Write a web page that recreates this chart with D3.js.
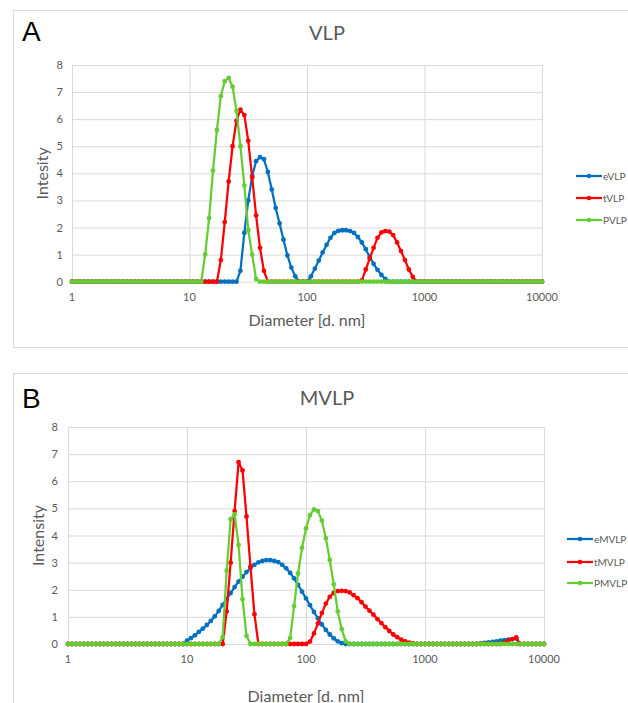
<!DOCTYPE html>
<html>
<head>
<meta charset="utf-8">
<script src="https://cdn.jsdelivr.net/npm/d3@7"></script>
<style>
  body { margin: 0; background: #fff; }
  svg { display: block; }
</style>
</head>
<body>
<svg id="chart" width="628" height="703"></svg>
<script>
// Size bins (nm), log spaced, shared by every series
const diameters = [
  1, 1.08, 1.166, 1.259, 1.359, 1.468, 1.585, 1.711, 1.848, 1.995,
  2.154, 2.326, 2.512, 2.712, 2.929, 3.162, 3.415, 3.687, 3.981, 4.299,
  4.642, 5.012, 5.412, 5.843, 6.31, 6.813, 7.356, 7.943, 8.577, 9.261,
  10, 10.8, 11.66, 12.59, 13.59, 14.68, 15.85, 17.11, 18.48, 19.95,
  21.54, 23.26, 25.12, 27.12, 29.29, 31.62, 34.15, 36.87, 39.81, 42.99,
  46.42, 50.12, 54.12, 58.43, 63.1, 68.13, 73.56, 79.43, 85.77, 92.61,
  100, 108, 116.6, 125.9, 135.9, 146.8, 158.5, 171.1, 184.8, 199.5,
  215.4, 232.6, 251.2, 271.2, 292.9, 316.2, 341.5, 368.7, 398.1, 429.9,
  464.2, 501.2, 541.2, 584.3, 631, 681.3, 735.6, 794.3, 857.7, 926.1,
  1000, 1080, 1166, 1259, 1359, 1468, 1585, 1711, 1848, 1995,
  2154, 2326, 2512, 2712, 2929, 3162, 3415, 3687, 3981, 4299,
  4642, 5012, 5412, 5843, 6310, 6813, 7356, 7943, 8577, 9261,
  10000
];

// Panel A - VLP intensities
const vlpE = [
  0, 0, 0, 0, 0, 0, 0, 0, 0, 0,
  0, 0, 0, 0, 0, 0, 0, 0, 0, 0,
  0, 0, 0, 0, 0, 0, 0, 0, 0, 0,
  0, 0, 0, 0, 0, 0, 0, 0, 0, 0,
  0, 0, 0, 0.4, 1.8, 3.0, 3.9, 4.45, 4.6, 4.52,
  4.05, 3.4, 2.72, 2.15, 1.55, 0.97, 0.52, 0.2, 0, 0,
  0, 0.2, 0.48, 0.78, 1.08, 1.36, 1.62, 1.8, 1.88, 1.9,
  1.9, 1.87, 1.8, 1.65, 1.45, 1.2, 0.92, 0.66, 0.44, 0.25,
  0.1, 0, 0, 0, 0, 0, 0, 0, 0, 0,
  0, 0, 0, 0, 0, 0, 0, 0, 0, 0,
  0, 0, 0, 0, 0, 0, 0, 0, 0, 0,
  0, 0, 0, 0, 0, 0, 0, 0, 0, 0,
  0
];
const vlpT = [
  0, 0, 0, 0, 0, 0, 0, 0, 0, 0,
  0, 0, 0, 0, 0, 0, 0, 0, 0, 0,
  0, 0, 0, 0, 0, 0, 0, 0, 0, 0,
  0, 0, 0, 0, 0, 0, 0, 0, 0.8, 2.2,
  3.7, 5.0, 5.95, 6.35, 6.15, 5.2, 3.85, 2.45, 1.25, 0.4,
  0, 0, 0, 0, 0, 0, 0, 0, 0, 0,
  0, 0, 0, 0, 0, 0, 0, 0, 0, 0,
  0, 0, 0, 0, 0.05, 0.45, 0.85, 1.25, 1.62, 1.82,
  1.87, 1.85, 1.72, 1.45, 1.13, 0.8, 0.45, 0.18, 0, 0,
  0, 0, 0, 0, 0, 0, 0, 0, 0, 0,
  0, 0, 0, 0, 0, 0, 0, 0, 0, 0,
  0, 0, 0, 0, 0, 0, 0, 0, 0, 0,
  0
];
const vlpP = [
  0, 0, 0, 0, 0, 0, 0, 0, 0, 0,
  0, 0, 0, 0, 0, 0, 0, 0, 0, 0,
  0, 0, 0, 0, 0, 0, 0, 0, 0, 0,
  0, 0, 0, 0, 1.0, 2.35, 4.1, 5.6, 6.85, 7.4,
  7.52, 7.2, 6.3, 5.0, 3.55, 1.9, 1.0, 0.1, 0, 0,
  0, 0, 0, 0, 0, 0, 0, 0, 0, 0,
  0, 0, 0, 0, 0, 0, 0, 0, 0, 0,
  0, 0, 0, 0, 0, 0, 0, 0, 0, 0,
  0, 0, 0, 0, 0, 0, 0, 0, 0, 0,
  0, 0, 0, 0, 0, 0, 0, 0, 0, 0,
  0, 0, 0, 0, 0, 0, 0, 0, 0, 0,
  0, 0, 0, 0, 0, 0, 0, 0, 0, 0,
  0
];

// Panel B - MVLP intensities
const mvlpE = [
  0, 0, 0, 0, 0, 0, 0, 0, 0, 0,
  0, 0, 0, 0, 0, 0, 0, 0, 0, 0,
  0, 0, 0, 0, 0, 0, 0, 0, 0, 0,
  0.12, 0.22, 0.32, 0.45, 0.57, 0.7, 0.85, 1.02, 1.22, 1.44,
  1.66, 1.88, 2.1, 2.3, 2.48, 2.65, 2.8, 2.92, 3.01, 3.06,
  3.09, 3.09, 3.06, 3.02, 2.92, 2.79, 2.62, 2.42, 2.18, 1.93,
  1.68, 1.43, 1.18, 0.95, 0.72, 0.52, 0.35, 0.21, 0.1, 0.03,
  0, 0, 0, 0, 0, 0, 0, 0, 0, 0,
  0, 0, 0, 0, 0, 0, 0, 0, 0, 0,
  0, 0, 0, 0, 0, 0, 0, 0, 0, 0,
  0, 0, 0, 0, 0.02, 0.04, 0.06, 0.08, 0.1, 0.12,
  0.14, 0.16, 0.18, 0.2, 0, 0, 0, 0, 0, 0,
  0
];
const mvlpT = [
  0, 0, 0, 0, 0, 0, 0, 0, 0, 0,
  0, 0, 0, 0, 0, 0, 0, 0, 0, 0,
  0, 0, 0, 0, 0, 0, 0, 0, 0, 0,
  0, 0, 0, 0, 0, 0, 0, 0, 0, 0,
  1.2, 3.0, 4.9, 6.7, 6.4, 4.7, 2.85, 1.1, 0, 0,
  0, 0, 0, 0, 0, 0, 0, 0, 0, 0,
  0, 0.09, 0.39, 0.76, 1.14, 1.49, 1.74, 1.88, 1.95, 1.96,
  1.95, 1.9, 1.8, 1.69, 1.54, 1.38, 1.23, 1.08, 0.92, 0.77,
  0.62, 0.48, 0.35, 0.25, 0.16, 0.1, 0.05, 0.02, 0, 0,
  0, 0, 0, 0, 0, 0, 0, 0, 0, 0,
  0, 0, 0, 0, 0, 0, 0, 0, 0, 0,
  0.05, 0.12, 0.18, 0.24, 0, 0, 0, 0, 0, 0,
  0
];
const mvlpP = [
  0, 0, 0, 0, 0, 0, 0, 0, 0, 0,
  0, 0, 0, 0, 0, 0, 0, 0, 0, 0,
  0, 0, 0, 0, 0, 0, 0, 0, 0, 0,
  0, 0, 0, 0, 0, 0, 0, 0, 0, 0.25,
  2.7, 4.6, 4.78, 3.65, 1.65, 0.3, 0, 0, 0, 0,
  0, 0, 0, 0, 0, 0, 0.22, 1.4, 2.6, 3.55,
  4.26, 4.75, 4.96, 4.9, 4.55, 3.9, 3.1, 2.2, 1.2, 0.55,
  0.1, 0, 0, 0, 0, 0, 0, 0, 0, 0,
  0, 0, 0, 0, 0, 0, 0, 0, 0, 0,
  0, 0, 0, 0, 0, 0, 0, 0, 0, 0,
  0, 0, 0, 0, 0, 0, 0, 0, 0, 0,
  0, 0, 0, 0, 0, 0, 0, 0, 0, 0,
  0
];

const xTicks = [1, 10, 100, 1000, 10000];
const yTicks = [0, 1, 2, 3, 4, 5, 6, 7, 8];
const vlpNames = ["eVLP", "tVLP", "PVLP"];
const mvlpNames = ["eMVLP", "tMVLP", "PMVLP"];
const colors = ["#0070c0", "#ff0000", "#66cc33"];

const font = "Lato, 'Open Sans', sans-serif";
const textGrey = "#595959";
const gridGrey = "#d9d9d9";

const svg = d3.select("#chart");

function drawPanel(cfg) {
    const g = svg.append("g");

    // Panel frame
    g.append("rect")
        .attr("x", 13.5).attr("y", cfg.frameTop + 0.5)
        .attr("width", 700).attr("height", cfg.frameHeight)
        .attr("fill", "none")
        .attr("stroke", gridGrey);

    // Panel letter
    g.append("text")
        .attr("x", 22).attr("y", cfg.letterY)
        .attr("font-family", "'Liberation Sans', Arial, sans-serif")
        .attr("font-size", "28px")
        .attr("fill", "#000")
        .text(cfg.letter);

    // Title
    g.append("text")
        .attr("x", 327).attr("y", cfg.titleY)
        .attr("text-anchor", "middle")
        .attr("font-family", font)
        .attr("font-size", "20px")
        .attr("fill", textGrey)
        .text(cfg.title);

    const x = d3.scaleLog().domain([1, 10000]).range([cfg.x0, cfg.x1]);
    const y = d3.scaleLinear().domain([0, 8]).range([cfg.yBottom, cfg.yTop]);

    // Grid lines
    g.append("g")
        .attr("transform", `translate(${cfg.x0},0)`)
        .call(d3.axisLeft(y).tickValues(yTicks).tickSize(-(cfg.x1 - cfg.x0)).tickFormat(""))
        .call(a => a.select(".domain").remove())
        .selectAll("line").attr("stroke", gridGrey);
    g.append("g")
        .attr("transform", `translate(0,${cfg.yBottom})`)
        .call(d3.axisBottom(x).tickValues(xTicks).tickSize(-(cfg.yBottom - cfg.yTop)).tickFormat(""))
        .call(a => a.select(".domain").remove())
        .selectAll("line").attr("stroke", gridGrey);

    // Tick labels
    g.selectAll(".ylab")
        .data(yTicks)
        .enter()
        .append("text")
        .attr("x", cfg.yLabelX)
        .attr("y", d => y(d) + 4)
        .attr("text-anchor", "end")
        .attr("font-family", font)
        .attr("font-size", "11px")
        .attr("fill", textGrey)
        .text(d => d);
    g.selectAll(".xlab")
        .data(xTicks)
        .enter()
        .append("text")
        .attr("x", d => x(d))
        .attr("y", cfg.xLabelY)
        .attr("text-anchor", "middle")
        .attr("font-family", font)
        .attr("font-size", "11px")
        .attr("fill", textGrey)
        .text(d => d);

    // Axis titles
    g.append("text")
        .attr("transform", `translate(${cfg.yTitleX},${(cfg.yBottom + cfg.yTop) / 2}) rotate(-90)`)
        .attr("text-anchor", "middle")
        .attr("dy", "0.35em")
        .attr("font-family", font)
        .attr("font-size", "16px")
        .attr("fill", textGrey)
        .text(cfg.yTitle);
    g.append("text")
        .attr("x", (cfg.x0 + cfg.x1) / 2)
        .attr("y", cfg.xTitleY)
        .attr("text-anchor", "middle")
        .attr("font-family", font)
        .attr("font-size", "16px")
        .attr("fill", textGrey)
        .text("Diameter [d. nm]");

    // Series: line plus markers, drawn in order
    const line = d3.line().x(d => x(d.d)).y(d => y(d.v));
    cfg.series.forEach((vals, i) => {
        const pts = diameters.map((d, j) => ({ d: d, v: vals[j] }));
        g.append("path")
            .datum(pts)
            .attr("d", line)
            .attr("fill", "none")
            .attr("stroke", colors[i])
            .attr("stroke-width", 2.25)
            .attr("stroke-linejoin", "round");
        g.selectAll(".pt" + i)
            .data(pts)
            .enter()
            .append("circle")
            .attr("cx", d => x(d.d))
            .attr("cy", d => y(d.v))
            .attr("r", 2.4)
            .attr("fill", colors[i]);
    });

    // Legend
    cfg.names.forEach((name, i) => {
        const ly = cfg.legendY[i];
        g.append("line")
            .attr("x1", cfg.legendX).attr("x2", cfg.legendX + 26)
            .attr("y1", ly).attr("y2", ly)
            .attr("stroke", colors[i])
            .attr("stroke-width", 2.25);
        g.append("circle")
            .attr("cx", cfg.legendX + 13).attr("cy", ly)
            .attr("r", 2.3)
            .attr("fill", colors[i]);
        g.append("text")
            .attr("x", cfg.legendX + 27).attr("y", ly + 4)
            .attr("font-family", font)
            .attr("font-size", "10px")
            .attr("fill", textGrey)
            .text(name);
    });
}

drawPanel({
    letter: "A", title: "VLP", yTitle: "Intesity",
    names: vlpNames, series: [vlpE, vlpT, vlpP],
    frameTop: 10, frameHeight: 337,
    x0: 72, x1: 542, yBottom: 281.7, yTop: 65,
    letterY: 41, titleY: 40, yLabelX: 63, xLabelY: 301,
    yTitleX: 42, xTitleY: 326,
    legendX: 576, legendY: [176, 198, 220]
});

drawPanel({
    letter: "B", title: "MVLP", yTitle: "Intensity",
    names: mvlpNames, series: [mvlpE, mvlpT, mvlpP],
    frameTop: 373, frameHeight: 400,
    x0: 68, x1: 544, yBottom: 644, yTop: 427,
    letterY: 408, titleY: 405, yLabelX: 58, xLabelY: 663,
    yTitleX: 38, xTitleY: 702,
    legendX: 567, legendY: [539, 562, 583]
});
</script>
</body>
</html>
